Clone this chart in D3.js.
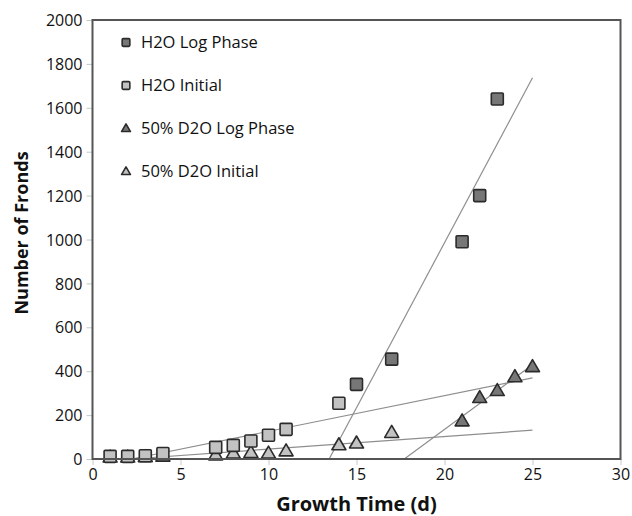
<!DOCTYPE html>
<html>
<head>
<meta charset="utf-8">
<script src="https://cdn.jsdelivr.net/npm/d3@7"></script>
<style>
  html, body { margin: 0; padding: 0; background: #fff; }
  svg { display: block; }
  text { font-family: "Open Sans", "Liberation Sans", sans-serif; fill: #111; }
</style>
</head>
<body>
<svg id="chart" width="632" height="516"></svg>
<script>
// Frond counts over growth time (days)
const h2oLogDays = [15, 17, 21, 22, 23];
const h2oLogFronds = [340, 455, 990, 1200, 1640];

const h2oInitDays = [1, 2, 3, 4, 7, 8, 9, 10, 11, 14];
const h2oInitFronds = [12, 12, 15, 25, 53, 62, 82, 108, 135, 254];

const d2oLogDays = [21, 22, 23, 24, 25];
const d2oLogFronds = [173, 279, 311, 374, 420];

const d2oInitDays = [1, 2, 3, 4, 7, 8, 9, 10, 11, 14, 15, 17];
const d2oInitFronds = [8, 8, 10, 12, 18, 26, 29, 26, 36, 64, 72, 120];

const xTicks = [0, 5, 10, 15, 20, 25, 30];
const yTicks = [0, 200, 400, 600, 800, 1000, 1200, 1400, 1600, 1800, 2000];

const seriesNames = ["H2O Log Phase", "H2O Initial", "50% D2O Log Phase", "50% D2O Initial"];

const margin = { left: 92.5, right: 620.5, top: 20, bottom: 459 };
const svg = d3.select("#chart");

const x = d3.scaleLinear().domain([0, 30]).range([margin.left, margin.right]);
const y = d3.scaleLinear().domain([0, 2000]).range([margin.bottom, margin.top]);

const series = [
  { name: seriesNames[0], xs: h2oLogDays, ys: h2oLogFronds, shape: "square", fill: "#777777" },
  { name: seriesNames[1], xs: h2oInitDays, ys: h2oInitFronds, shape: "square", fill: "#c2c2c2" },
  { name: seriesNames[2], xs: d2oLogDays, ys: d2oLogFronds, shape: "triangle", fill: "#777777" },
  { name: seriesNames[3], xs: d2oInitDays, ys: d2oInitFronds, shape: "triangle", fill: "#c2c2c2" }
];

// least-squares linear fit
function fit(xs, ys) {
  const mx = d3.mean(xs), my = d3.mean(ys);
  let sxy = 0, sxx = 0;
  xs.forEach((v, i) => { sxy += (v - mx) * (ys[i] - my); sxx += (v - mx) * (v - mx); });
  const slope = sxy / sxx;
  return { slope, intercept: my - slope * mx };
}

// axis tick marks (light grey, outside the frame)
const yAxis = d3.axisLeft(y).tickValues(yTicks).tickFormat(d3.format("d")).tickSize(6).tickPadding(4);
const xAxis = d3.axisBottom(x).tickValues(xTicks).tickFormat(d3.format("d")).tickSize(6).tickPadding(4);

const gy = svg.append("g").attr("transform", `translate(${margin.left},0)`).call(yAxis);
const gx = svg.append("g").attr("transform", `translate(0,${margin.bottom})`).call(xAxis);
[gy, gx].forEach(g => {
  g.select(".domain").remove();
  g.selectAll(".tick line").attr("stroke", "#c8c8c8").attr("stroke-width", 1);
  g.selectAll(".tick text").style("font-size", "16px").attr("fill", "#111")
    .style("font-family", "'Open Sans', sans-serif");
});
gy.selectAll(".tick text").attr("dy", "0.35em");

// trend lines
const trend = svg.append("g");
series.forEach(s => {
  const f = fit(s.xs, s.ys);
  const x0 = Math.max(0, -f.intercept / f.slope);
  const x1 = 25;
  trend.append("line")
    .attr("x1", x(x0)).attr("y1", y(f.slope * x0 + f.intercept))
    .attr("x2", x(x1)).attr("y2", y(f.slope * x1 + f.intercept))
    .attr("stroke", "#8e8e8e").attr("stroke-width", 1.2);
});

// markers
const sqSize = 12, triW = 14, triH = 12;
function drawMarker(g, shape, cx, cy, fill, scale) {
  if (shape === "square") {
    const s = sqSize * scale;
    g.append("rect").attr("x", cx - s / 2).attr("y", cy - s / 2).attr("width", s).attr("height", s)
      .attr("rx", 1).attr("fill", fill).attr("stroke", "#2b2b2b").attr("stroke-width", 1.6);
  } else {
    const w = triW * scale, h = triH * scale;
    g.append("path")
      .attr("d", `M${cx},${cy - h * 0.6}L${cx + w / 2},${cy + h * 0.4}L${cx - w / 2},${cy + h * 0.4}Z`)
      .attr("fill", fill).attr("stroke", "#2b2b2b").attr("stroke-width", 1.6).attr("stroke-linejoin", "round");
  }
}

const marks = svg.append("g");
[series[3], series[1], series[2], series[0]].forEach(s => {
  s.xs.forEach((d, i) => drawMarker(marks, s.shape, x(d), y(s.ys[i]), s.fill, 1));
});

// frame
svg.append("rect")
  .attr("x", margin.left).attr("y", margin.top)
  .attr("width", margin.right - margin.left).attr("height", margin.bottom - margin.top)
  .attr("fill", "none").attr("stroke", "#555").attr("stroke-width", 2);

// legend
const legend = svg.append("g");
series.forEach((s, i) => {
  const cy = 42.5 + i * 43;
  drawMarker(legend, s.shape, 126, cy, s.fill, 0.64);
  legend.append("text").attr("x", 141).attr("y", cy).attr("dy", "0.36em")
    .style("font-size", "16.5px").text(s.name);
});

// axis titles
svg.append("text").attr("x", (margin.left + margin.right) / 2).attr("y", 511)
  .attr("text-anchor", "middle")
  .style("font-size", "20px").style("font-weight", "bold").text("Growth Time (d)");

svg.append("text")
  .attr("transform", "translate(21.5,233) rotate(-90)")
  .attr("text-anchor", "middle").attr("dy", "0.35em")
  .style("font-size", "18px").style("font-weight", "bold").text("Number of Fronds");
</script>
</body>
</html>
